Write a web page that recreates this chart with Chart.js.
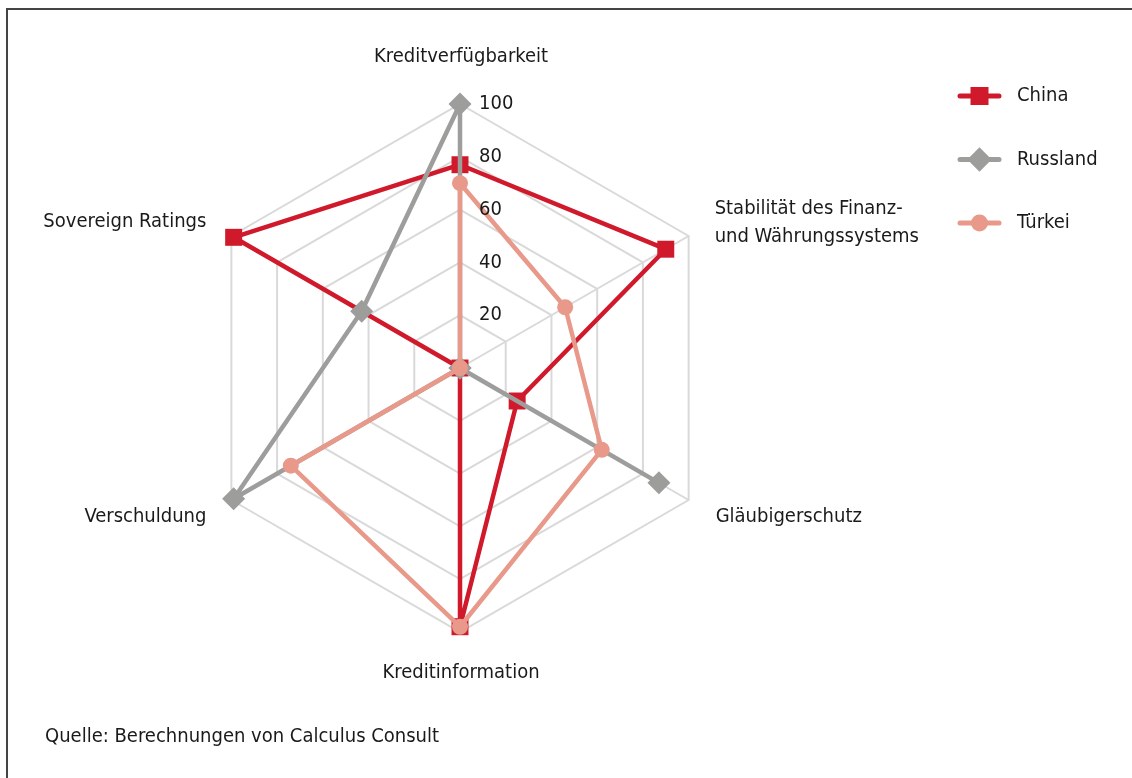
<!DOCTYPE html>
<html lang="de">

<head>
    <meta charset="UTF-8">
    <title>Radar</title>
    <script src="https://cdn.jsdelivr.net/npm/chart.js"></script>
    <style>
        html, body { margin: 0; padding: 0; background: #fff; }
        #wrap { width: 1132px; height: 778px; }
    </style>
</head>

<body>
    <div id="wrap">
        <canvas id="myChart" width="1132" height="778"></canvas>
    </div>
</body>

<script>

    const categories = [
        'Kreditverfügbarkeit',
        ['Stabilität des Finanz-', 'und Währungssystems'],
        'Gläubigerschutz',
        'Kreditinformation',
        'Verschuldung',
        'Sovereign Ratings'
    ]
    const china = [77, 90, 25, 98, 0, 99]
    const russland = [100, 0, 87, 0, 99, 43]
    const tuerkei = [70, 46, 62, 98, 74, 0]
    const tickLabels = [20, 40, 60, 80, 100]
    const sourceNote = 'Quelle: Berechnungen von Calculus Consult'

    const FONT = '"Liberation Sans Narrow", "DejaVu Sans Condensed", "Noto Sans", sans-serif'
    const TEXT = '#1a1a1a'

    // label placement relative to each outer vertex: [dx, dy, align]
    const labelOffsets = [
        [1, -47, 'center'],
        [26, -13, 'left'],
        [27, 17, 'left'],
        [1, 41, 'center'],
        [-25, 17, 'right'],
        [-25, -14, 'right']
    ]

    function drawMarker(ctx, style, x, y, size, color) {
        ctx.save()
        ctx.fillStyle = color
        ctx.beginPath()
        if (style === 'rect') {
            ctx.rect(x - size, y - size, size * 2, size * 2)
        } else if (style === 'rectRot') {
            const s = size * 1.35
            ctx.moveTo(x, y - s); ctx.lineTo(x + s, y); ctx.lineTo(x, y + s); ctx.lineTo(x - s, y)
            ctx.closePath()
        } else {
            ctx.arc(x, y, size, 0, Math.PI * 2)
        }
        ctx.fill()
        ctx.restore()
    }

    const overlay = {
        id: 'overlay',
        afterDraw(chart) {
            const ctx = chart.ctx
            const r = chart.scales.r
            ctx.save()

            // frame
            ctx.strokeStyle = '#444'
            ctx.lineWidth = 2
            ctx.beginPath()
            ctx.moveTo(7, 790)
            ctx.lineTo(7, 9)
            ctx.lineTo(1140, 9)
            ctx.stroke()

            ctx.fillStyle = TEXT
            ctx.font = '20px ' + FONT

            // tick labels
            ctx.textAlign = 'left'
            ctx.textBaseline = 'middle'
            tickLabels.forEach(v => {
                const p = r.getPointPositionForValue(0, v)
                ctx.fillText(String(v), p.x + 19, p.y)
            })

            // category labels
            categories.forEach((lab, i) => {
                const p = r.getPointPosition(i, r.drawingArea)
                const [dx, dy, align] = labelOffsets[i]
                const lines = Array.isArray(lab) ? lab : [lab]
                ctx.textAlign = align
                const lh = 28
                const y0 = p.y + dy - (lines.length - 1) * lh / 2
                lines.forEach((t, k) => ctx.fillText(t, p.x + dx, y0 + k * lh))
            })

            // legend
            const ds = chart.data.datasets.slice().sort((a, b) => a.legendPos - b.legendPos)
            ds.forEach((d, i) => {
                const y = 96 + i * 63.5
                ctx.strokeStyle = d.borderColor
                ctx.lineWidth = 5
                ctx.lineCap = 'round'
                ctx.beginPath()
                ctx.moveTo(960, y)
                ctx.lineTo(999, y)
                ctx.stroke()
                drawMarker(ctx, d.pointStyle, 979.5, y, d.legendSize, d.borderColor)
                ctx.fillStyle = TEXT
                ctx.textAlign = 'left'
                ctx.fillText(d.label, 1017, y)
            })

            // source
            ctx.fillStyle = TEXT
            ctx.textAlign = 'left'
            ctx.fillText(sourceNote, 45, 737)
            ctx.restore()
        }
    }

    const chart = new Chart(
        document.getElementById('myChart'),
        {
            type: 'radar',
            data: {
                labels: categories,
                datasets: [{
                    label: 'China',
                    data: china,
                    borderColor: '#d0192b',
                    backgroundColor: '#d0192b',
                    pointStyle: 'rect',
                    pointRadius: 12,
                    legendSize: 9,
                    legendPos: 0,
                    order: 2
                }, {
                    label: 'Russland',
                    data: russland,
                    borderColor: '#9d9d9c',
                    backgroundColor: '#9d9d9c',
                    pointStyle: 'rectRot',
                    pointRadius: 11.5,
                    legendSize: 9,
                    legendPos: 1,
                    order: 1
                }, {
                    label: 'Türkei',
                    data: tuerkei,
                    borderColor: '#e8998a',
                    backgroundColor: '#e8998a',
                    pointStyle: 'circle',
                    pointRadius: 8,
                    legendSize: 8.5,
                    legendPos: 2,
                    order: 0
                }]
            },
            options: {
                responsive: false,
                animation: false,
                devicePixelRatio: 1,
                layout: { padding: { left: 196, right: 408, top: 104, bottom: 146 } },
                elements: {
                    line: { borderWidth: 4.5, fill: false, tension: 0, borderJoinStyle: 'round' },
                    point: { borderWidth: 0, hoverRadius: 8 }
                },
                plugins: {
                    legend: { display: false },
                    tooltip: { enabled: false }
                },
                scales: {
                    r: {
                        min: 0,
                        max: 100,
                        ticks: { stepSize: 20, display: false },
                        grid: { color: '#d9d9d9', lineWidth: 2 },
                        angleLines: { color: '#d9d9d9', lineWidth: 2 },
                        pointLabels: { display: false }
                    }
                }
            },
            plugins: [overlay]
        })

</script>

</html>
